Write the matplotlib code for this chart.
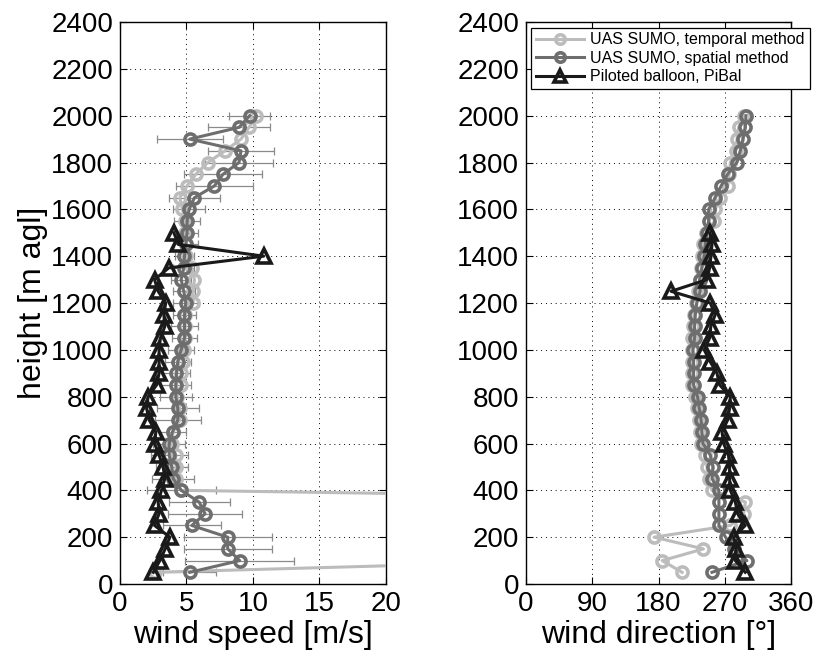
import numpy as np
import matplotlib
matplotlib.use("Agg")
import matplotlib.pyplot as plt

plt.rcParams['font.family'] = ['Liberation Sans', 'DejaVu Sans']

# heights of the UAS profiles (m agl)
heights = [50, 100, 150, 200, 250, 300, 350, 400, 450, 500,
           550, 600, 650, 700, 750, 800, 850, 900, 950, 1000,
           1050, 1100, 1150, 1200, 1250, 1300, 1350, 1400, 1450, 1500,
           1550, 1600, 1650, 1700, 1750, 1800, 1850, 1900, 1950, 2000]

# UAS SUMO, temporal method
speed_temporal = [2.6, 34, 48, 57, 62, 66, 64, 4.6, 4.2, 4.2,
                  4.2, 3.9, 4.0, 4.5, 4.5, 4.3, 4.6, 4.6, 4.75, 4.8,
                  4.9, 4.9, 4.9, 5.5, 5.5, 5.6, 5.4, 5.0, 5.0, 4.9,
                  4.9, 4.7, 4.5, 5.05, 5.7, 6.6, 7.9, 9.1, 9.7, 10.25]
dir_temporal = [212, 185, 241, 174, 277.6, 295.5, 298, 252.5, 248, 245.8,
                243.5, 238, 236, 235, 232, 230, 226, 225, 225, 225,
                226, 227, 228, 231, 234, 236, 238, 238.6, 240, 245,
                256, 257, 263, 274, 276, 277.5, 285, 286.5, 288.8, 296]

# UAS SUMO, spatial method
speed_spatial = [5.25, 9.0, 8.1, 8.1, 5.4, 6.4, 5.95, 4.6, 4.0, 3.9,
                 3.7, 3.7, 3.95, 4.35, 4.35, 4.2, 4.2, 4.25, 4.35, 4.6,
                 4.85, 4.85, 4.85, 4.95, 4.8, 4.6, 4.8, 4.85, 4.95, 5.05,
                 5.05, 5.2, 5.6, 7.1, 7.75, 8.95, 9.1, 5.25, 8.95, 9.75]
speed_spatial_err = [2.0, 4.1, 3.3, 3.3, 2.2, 2.8, 2.3, 2.6, 1.6, 1.2,
                     1.4, 1.2, 1.05, 1.75, 1.6, 1.2, 1.15, 1.0, 1.0, 1.0,
                     0.95, 1.0, 0.9, 1.0, 0.85, 0.75, 0.8, 0.7, 0.9, 0.85,
                     1.0, 1.2, 1.9, 2.9, 2.9, 2.55, 2.45, 2.5, 2.3, 1.55]
dir_spatial = [252.6, 300, 282, 271, 262, 262, 262, 262, 252.6, 254,
               250.3, 240.4, 239, 238, 235.4, 233, 227.7, 227.6, 227.6, 226.8,
               229, 229, 230, 232, 236.7, 235.8, 239, 242, 243.5, 245.8,
               248, 248, 257, 265, 273.8, 286.5, 291, 294.7, 297.9, 298.8]

# Piloted balloon
pibal_heights = [50, 100, 150, 200, 250, 300, 350, 400, 450, 500,
                 550, 600, 650, 700, 750, 800, 850, 900, 950, 1000,
                 1050, 1100, 1150, 1200, 1250, 1300, 1350, 1400, 1450, 1500]
speed_pibal = [2.5, 3.0, 3.4, 3.75, 2.6, 2.94, 2.87, 3.12, 3.37, 3.25,
               2.94, 2.6, 2.7, 2.2, 2.0, 2.12, 2.75, 2.94, 2.94, 2.94,
               3.04, 3.37, 3.3, 3.44, 2.87, 2.6, 3.67, 10.8, 4.4, 4.05]
dir_pibal = [297.8, 284.3, 285.6, 282, 297.8, 287.4, 284.3, 277.5, 276.5, 276.5,
             275, 268.4, 266.2, 273.8, 276.5, 277.5, 263, 259.4, 250, 242,
             249.4, 251, 257, 250.3, 197, 245.8, 249.4, 251.2, 252.6, 249.4]

labels = ['UAS SUMO, temporal method', 'UAS SUMO, spatial method',
          'Piloted balloon, PiBal']

c_light = '#bcbcbc'
c_dark = '#6e6e6e'
c_black = '#1a1a1a'

fig = plt.figure(figsize=(8.2, 6.57), dpi=100)
ax1 = fig.add_axes([0.1463, 0.1111, 0.3244, 0.8554])
ax2 = fig.add_axes([0.6415, 0.1111, 0.3232, 0.8554])

circ = dict(marker='o', ms=8, mew=2.6, mfc='none', lw=2.2)
tri = dict(marker='^', ms=10, mew=2.6, mfc='none', lw=2.2)

# wind speed
ax1.errorbar(speed_spatial, heights, xerr=speed_spatial_err, fmt='none',
             ecolor='#8a8a8a', elinewidth=0.9, capsize=3, capthick=0.9, zorder=2)
ax1.plot(speed_temporal, heights, color=c_light, mec=c_light, zorder=3, **circ)
ax1.plot(speed_spatial, heights, color=c_dark, mec=c_dark, zorder=4, **circ)
ax1.plot(speed_pibal, pibal_heights, color=c_black, mec=c_black, zorder=5, **tri)
ax1.set_xlim(0, 20)
ax1.set_xticks([0, 5, 10, 15, 20])
ax1.set_xlabel('wind speed [m/s]', fontsize=23, labelpad=2)
ax1.set_ylabel('height [m agl]', fontsize=23, labelpad=2)

# wind direction
ax2.plot(dir_temporal, heights, color=c_light, mec=c_light, zorder=3,
         label=labels[0], **circ)
ax2.plot(dir_spatial, heights, color=c_dark, mec=c_dark, zorder=4,
         label=labels[1], **circ)
ax2.plot(dir_pibal, pibal_heights, color=c_black, mec=c_black, zorder=5,
         label=labels[2], **tri)
ax2.set_xlim(0, 360)
ax2.set_xticks([0, 90, 180, 270, 360])
ax2.set_xlabel('wind direction [\u00b0]', fontsize=23, labelpad=2)

for ax in (ax1, ax2):
    ax.set_ylim(0, 2400)
    ax.set_yticks(np.arange(0, 2401, 200))
    ax.grid(True, color='black', linestyle=(0, (1, 4)), linewidth=0.7)
    ax.set_axisbelow(True)
    ax.tick_params(direction='in', top=True, right=True, length=5,
                   width=0.8, labelsize=20, pad=5)
    for s in ax.spines.values():
        s.set_linewidth(1.0)

leg = ax2.legend(loc='upper left', bbox_to_anchor=(0.02, 0.99), fontsize=11.5,
                 frameon=True, fancybox=False, edgecolor='black', framealpha=1,
                 handlelength=3, labelspacing=0.22, borderpad=0.3,
                 handletextpad=0.4, borderaxespad=0, markerscale=0.85)
leg.get_frame().set_linewidth(0.9)

fig.savefig('out.png', dpi=100)
